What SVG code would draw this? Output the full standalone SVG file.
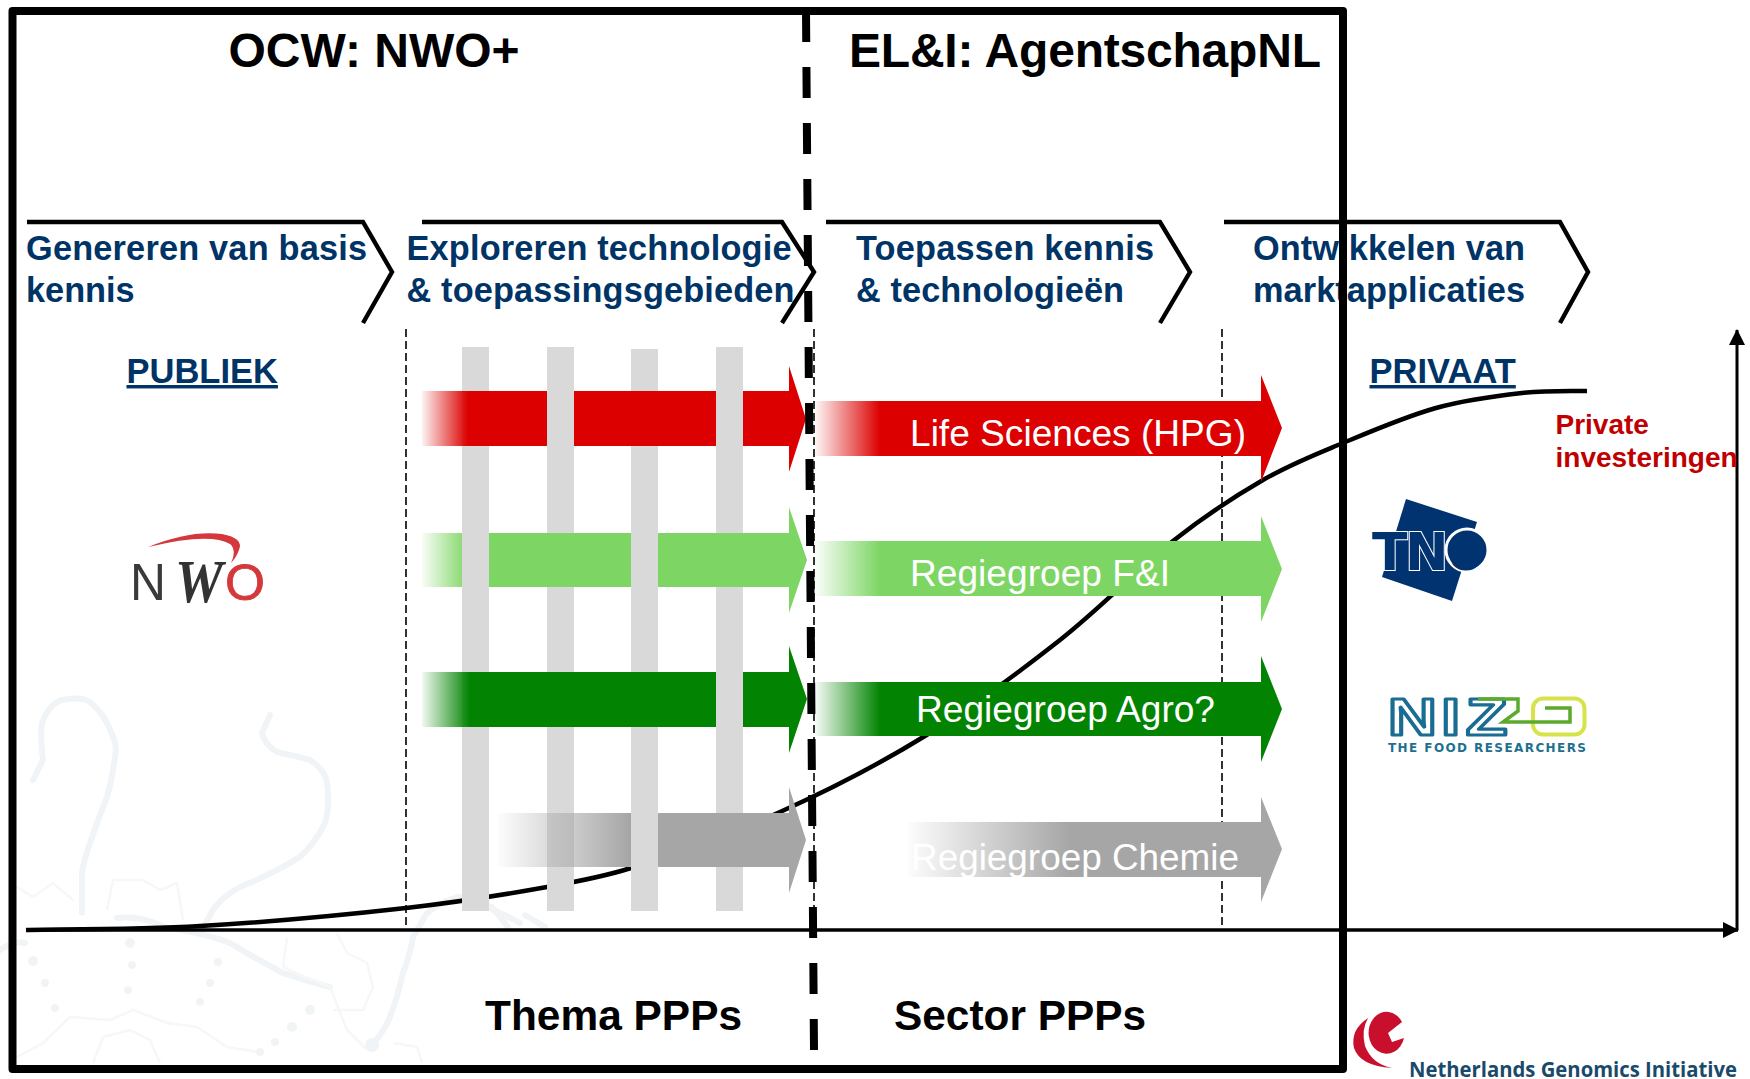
<svg xmlns="http://www.w3.org/2000/svg" width="1750" height="1079" viewBox="0 0 1750 1079">
<style>
text{font-family:"Liberation Sans",Arial,sans-serif}
.chev{fill:none;stroke:#000;stroke-width:4.4}
.step{font-size:34.3px;font-weight:700;fill:#003366}
.head{font-size:48px;font-weight:700;fill:#000}
.ppp{font-size:42.4px;font-weight:700;fill:#000}
.side{font-size:34.5px;font-weight:700;fill:#003366;text-decoration:underline}
.lab{font-size:37px;fill:#fff}
.priv{font-size:28px;font-weight:700;fill:#C00000}
.bar{fill:#D9D9D9}
.thin{stroke:#000;stroke-width:1.6;stroke-dasharray:8 4;fill:none}
.wmT{fill:none;stroke:#F0F4F6;stroke-width:6;stroke-linecap:round;stroke-linejoin:round;stroke-dasharray:7 1}
.wm{fill:none;stroke:#F5F7F8;stroke-width:2.5;stroke-linejoin:round}
.wd{fill:#F1F4F6}
</style>
<defs>
<linearGradient id="gRedL" gradientUnits="userSpaceOnUse" x1="422" x2="468" y1="0" y2="0"><stop offset="0" stop-color="#DC0000" stop-opacity=".05"/><stop offset="1" stop-color="#DC0000"/></linearGradient>
<linearGradient id="gRedR" gradientUnits="userSpaceOnUse" x1="815" x2="880" y1="0" y2="0"><stop offset="0" stop-color="#DC0000" stop-opacity=".03"/><stop offset="1" stop-color="#DC0000"/></linearGradient>
<linearGradient id="gLimeL" gradientUnits="userSpaceOnUse" x1="422" x2="468" y1="0" y2="0"><stop offset="0" stop-color="#7DD663" stop-opacity=".05"/><stop offset="1" stop-color="#7DD663"/></linearGradient>
<linearGradient id="gLimeR" gradientUnits="userSpaceOnUse" x1="815" x2="880" y1="0" y2="0"><stop offset="0" stop-color="#7DD663" stop-opacity=".03"/><stop offset="1" stop-color="#7DD663"/></linearGradient>
<linearGradient id="gGrnL" gradientUnits="userSpaceOnUse" x1="422" x2="470" y1="0" y2="0"><stop offset="0" stop-color="#028402" stop-opacity=".05"/><stop offset="1" stop-color="#028402"/></linearGradient>
<linearGradient id="gGrnR" gradientUnits="userSpaceOnUse" x1="815" x2="880" y1="0" y2="0"><stop offset="0" stop-color="#028402" stop-opacity=".03"/><stop offset="1" stop-color="#028402"/></linearGradient>
<linearGradient id="gGryL" gradientUnits="userSpaceOnUse" x1="498" x2="630" y1="0" y2="0"><stop offset="0" stop-color="#A6A6A6" stop-opacity=".03"/><stop offset="1" stop-color="#A6A6A6"/></linearGradient>
<linearGradient id="gGryR" gradientUnits="userSpaceOnUse" x1="908" x2="1070" y1="0" y2="0"><stop offset="0" stop-color="#A6A6A6" stop-opacity=".03"/><stop offset="1" stop-color="#A6A6A6"/></linearGradient>
<marker id="ah" markerUnits="userSpaceOnUse" markerWidth="16" markerHeight="16" refX="15" refY="8" orient="auto"><path d="M0 0L16 8L0 16Z" fill="#000"/></marker>
</defs>
<rect width="1750" height="1079" fill="#fff"/>

<g id="watermark">
<path class="wmT" d="M33 780L43 760Q40 735 42 723Q50 702 63 700Q80 696 90 702Q105 715 110 730Q118 745 115 757Q112 780 107 797Q98 820 90 843Q84 860 82 873L82 913"/>
<path class="wmT" d="M270 715L262 733Q265 745 277 752Q295 756 310 760Q325 770 327 783Q330 805 325 823Q315 843 300 857Q270 875 240 887Q222 897 213 910L203 928"/>
<path class="wmT" d="M117 918Q140 915 167 928Q200 932 230 943Q255 958 283 973Q310 982 330 987"/>
<path class="wmT" d="M520 923Q505 915 493 910Q475 895 457 897Q440 903 427 913L413 937Q410 955 403 973Q398 995 390 1017Q382 1035 370 1047"/>
<path class="wmT" d="M0 950Q15 940 25 943M492 907L508 927M545 927L525 915"/>
<path class="wm" d="M17 887L33 897L53 883L73 900M107 910L113 880L143 880L160 890L177 883L183 920M287 937L283 967M337 933L347 953L367 963L373 987L363 1010L333 1010M330 987L347 1030L367 1050M17 1057L43 1043L70 1017L110 1020L133 1010L167 1023L197 1027L227 1047L263 1053M93 1063L103 1037L130 1030L150 1040L160 1063M393 1043L417 1047L422 1063M283 967Q300 975 330 987"/>
<g class="wd"><circle cx="130" cy="943" r="5"/><circle cx="132" cy="965" r="4"/><circle cx="128" cy="990" r="4"/><circle cx="200" cy="1002" r="4"/><circle cx="218" cy="962" r="4"/><circle cx="210" cy="983" r="4"/><circle cx="33" cy="961" r="5"/><circle cx="45" cy="983" r="4"/><circle cx="55" cy="1008" r="4"/><circle cx="310" cy="1010" r="5"/><circle cx="292" cy="1027" r="5"/><circle cx="275" cy="1042" r="4"/><circle cx="260" cy="1052" r="4"/><circle cx="372" cy="1045" r="7"/></g>
</g>

<path id="s-curve" d="M26 930C55 929.3 136.7 929.7 200 926C263.3 922.3 348.2 914.5 406 908C463.8 901.5 509.5 893.7 547 887C575 882 603 877 631 868C669.8 855.5 731 834 780 812C829 790 878.3 764.7 925 736C971.7 707.3 1018.7 672.5 1060 640C1101.3 607.5 1139.2 567.7 1173 541C1206.8 514.3 1234.7 496.3 1263 480C1291.3 463.7 1314.2 455 1343 443C1371.8 431 1406.2 416.3 1436 408C1465.8 399.7 1496.8 395.8 1522 393C1547.2 390.2 1576.2 391.3 1587 391" fill="none" stroke="#000" stroke-width="4.5"/>

<g id="guides">
<line class="thin" x1="406" y1="329" x2="406" y2="926"/>
<line class="thin" x1="814" y1="329" x2="814" y2="926"/>
<line class="thin" x1="1222" y1="329" x2="1222" y2="926"/>
</g>

<g id="themes">
<rect class="bar" x="462" y="347" width="27" height="564"/>
<rect class="bar" x="547" y="347" width="27" height="564"/>
<rect class="bar" x="631" y="349" width="27" height="562"/>
<rect class="bar" x="716" y="347" width="27" height="564"/>
</g>

<g id="thema-arrows">
<polygon id="t-red" fill="url(#gRedL)" points="422,391 789,391 789,366 806,419 789,472 789,446 422,446"/>
<polygon id="t-lime" fill="url(#gLimeL)" points="422,533 789,533 789,507 807,560 789,613 789,587 422,587"/>
<polygon id="t-green" fill="url(#gGrnL)" points="422,672 789,672 789,646 807,699 789,753 789,727 422,727"/>
<polygon id="t-grey" fill="url(#gGryL)" points="498,813 789,813 789,787 806,840 789,893 789,867 498,867"/>
<rect class="bar" x="547" y="391" width="27" height="55"/>
<rect class="bar" x="716" y="391" width="27" height="55"/>
<rect class="bar" x="462" y="533" width="27" height="54"/>
<rect class="bar" x="631" y="533" width="27" height="54"/>
<rect class="bar" x="716" y="672" width="27" height="55"/>
<rect class="bar" x="631" y="813" width="27" height="54"/>
</g>

<g id="sector-arrows">
<g id="life-sciences"><polygon fill="url(#gRedR)" points="815,401 1261,401 1261,375 1282,428 1261,482 1261,456 815,456"/><text class="lab" x="910" y="446" textLength="336" lengthAdjust="spacingAndGlyphs">Life Sciences (HPG)</text></g>
<g id="fi"><polygon fill="url(#gLimeR)" points="815,541 1261,541 1261,516 1282,569 1261,622 1261,596 815,596"/><text class="lab" x="910" y="586" textLength="260" lengthAdjust="spacingAndGlyphs">Regiegroep F&amp;I</text></g>
<g id="agro"><polygon fill="url(#gGrnR)" points="815,682 1261,682 1261,656 1282,709 1261,762 1261,736 815,736"/><text class="lab" x="916" y="722" textLength="299" lengthAdjust="spacingAndGlyphs">Regiegroep Agro?</text></g>
<g id="chemie"><polygon fill="url(#gGryR)" points="908,822 1261,822 1261,797 1282,849 1261,902 1261,877 908,877"/><text class="lab" x="911" y="870" textLength="328" lengthAdjust="spacingAndGlyphs">Regiegroep Chemie</text></g>
</g>

<g id="axes">
<line x1="26" y1="930" x2="1738" y2="930" stroke="#000" stroke-width="3.4" marker-end="url(#ah)"/>
<line x1="1737" y1="930" x2="1737" y2="330" stroke="#000" stroke-width="3" marker-end="url(#ah)"/>
</g>

<g id="step1"><polyline class="chev" points="27,222 363,222 392,272 363,323"/><text class="step" x="26" y="260" textLength="341">Genereren van basis</text><text class="step" x="26" y="302">kennis</text></g>
<g id="step2"><polyline class="chev" points="422,222 782,222 814,272 782,323"/><text class="step" x="406.500" y="260" textLength="385">Exploreren technologie</text><text class="step" x="406.500" y="302" textLength="388">&amp; toepassingsgebieden</text></g>
<g id="step3"><polyline class="chev" points="826,222 1160,222 1190,272 1160,323"/><text class="step" x="856" y="260" textLength="298">Toepassen kennis</text><text class="step" x="856" y="302" textLength="268">&amp; technologieën</text></g>
<g id="step4"><polyline class="chev" points="1224,222 1560,222 1588,272 1560,323"/><text class="step" x="1253" y="260" textLength="272">Ontwikkelen van</text><text class="step" x="1253" y="302" textLength="272">marktapplicaties</text></g>

<text id="publiek" class="side" x="126.500" y="383">PUBLIEK</text>
<text id="privaat" class="side" x="1369.500" y="383">PRIVAAT</text>
<g id="private-inv"><text class="priv" x="1555.500" y="434">Private</text><text class="priv" x="1555.500" y="467">investeringen</text></g>

<g id="logo-nwo">
<path fill="#D4373C" d="M148 547Q190 530 222 534Q244 538 239 550Q236 558 231 563Q237 550 230 544Q210 532 148 547Z"/>
<text x="130" y="600" font-size="52" fill="#3A3A3A" textLength="36" lengthAdjust="spacingAndGlyphs">N</text>
<text x="175" y="602" font-size="62" fill="#333" font-weight="700" font-style="italic" style="font-family:'Liberation Serif',serif" textLength="48" lengthAdjust="spacingAndGlyphs">W</text>
<text x="225" y="600" font-size="50" fill="#D4373C" stroke="#D4373C" stroke-width=".8" textLength="40" lengthAdjust="spacingAndGlyphs">O</text>
</g>

<g id="logo-tno">
<polygon fill="#003370" points="1406,499 1477,522 1452,601 1382,577"/>
<circle cx="1467" cy="550" r="21" fill="#003370" stroke="#fff" stroke-width="3"/>
<text x="1372 1405 1448" y="570" font-size="52" font-weight="700" fill="#003370" stroke="#fff" stroke-width="2" paint-order="stroke" style="font-family:'DejaVu Sans',sans-serif">TN<tspan stroke="none" font-size="42">O</tspan></text>
</g>

<g id="logo-nizo">
<text transform="translate(1388,735) scale(1.3,1)" x="0 41 60" font-size="52" font-weight="700" fill="#fff" stroke="#1A6C93" stroke-width="3.2" stroke-linejoin="round">NIZ</text>
<rect x="1533" y="698.500" width="51.500" height="36" rx="10" fill="#fff" stroke="#D6E34A" stroke-width="4"/>
<path d="M1478 699H1518V711L1503 722H1570V708H1545" fill="none" stroke="#5BAA2C" stroke-width="3.500"/>
<text x="1388" y="752" font-size="12" font-weight="700" fill="#1F6F8F" textLength="198" lengthAdjust="spacing" style="font-family:'DejaVu Sans',sans-serif">THE FOOD RESEARCHERS</text>
</g>

<g id="logo-ngi">
<path fill="#C8102E" d="M1368 1018Q1350 1030 1354 1048Q1360 1066 1392 1068Q1372 1064 1365 1046Q1361 1030 1368 1018Z"/>
<path fill="#C8102E" d="M1402 1022L1388 1033L1392 1042L1404 1038A18 21 0 1 1 1402 1022Z"/>
<text x="1409" y="1077" font-size="22" font-weight="700" fill="#1A4A6B" style="font-family:'Open Sans',sans-serif" textLength="328" lengthAdjust="spacingAndGlyphs">Netherlands Genomics Initiative</text>
</g>

<g id="frame">
<rect x="12.500" y="11" width="1330.500" height="1058" fill="none" stroke="#000" stroke-width="8" stroke-linejoin="round"/>
</g>
<line id="ministry-split" x1="814" y1="1050" x2="806" y2="11" stroke="#000" stroke-width="8" stroke-dasharray="31 25"/>

<text id="ocw" class="head" x="228.500" y="67">OCW: NWO+</text>
<text id="eli" class="head" x="849" y="67" textLength="472">EL&amp;I: AgentschapNL</text>
<text id="thema" class="ppp" x="485" y="1030" textLength="257">Thema PPPs</text>
<text id="sector" class="ppp" x="894" y="1030" textLength="252">Sector PPPs</text>
</svg>
